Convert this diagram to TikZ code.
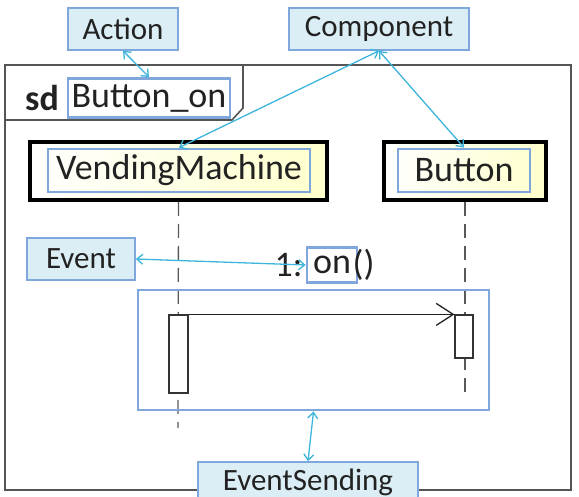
\documentclass[tikz,border=0pt]{standalone}
\usepackage{fontspec}
\setmainfont{Carlito}
\usetikzlibrary{arrows.meta}
\definecolor{tagfill}{HTML}{DCEEF5}
\definecolor{tagline}{HTML}{7FA7DB}
\definecolor{linkcol}{HTML}{3CB4DC}
\definecolor{lifefill}{HTML}{FFFFCC}
\definecolor{framecol}{HTML}{555555}
\definecolor{inkcol}{HTML}{222222}

\tikzset{
  tag/.style={draw=tagline, fill=tagfill, line width=1.6pt, inner sep=0pt, text=inkcol, font=\fontsize{31}{33}\selectfont},
  hilite/.style={draw=tagline, line width=2.8pt, inner sep=0pt, text=inkcol, font=\fontsize{36}{38}\selectfont},
  lifebox/.style={draw=black, line width=3.6pt, inner sep=0pt, left color=white, right color=lifefill},
  activation/.style={draw=black!80, fill=white, line width=1.2pt, inner sep=0pt},
  link/.style={linkcol, line width=1.3pt, {Straight Barb[length=6pt,width=10pt]}-{Straight Barb[length=6pt,width=10pt]}},
  lifeline/.style={black!65, line width=1.3pt, dash pattern=on 14pt off 8pt},
}

\begin{document}
\begin{tikzpicture}[x=1pt,y=-1pt]
  \useasboundingbox (0,0) rectangle (579,497);
  % frame
  \draw[framecol, line width=1.6pt] (5,65) rectangle (571,490);
  \draw[framecol, line width=1.6pt] (5,120) -- (232,120) -- (243,108) -- (243,65);
  \node[font=\fontsize{36}{38}\selectfont\bfseries, text=inkcol, inner sep=0pt] (sd) at (42,98) {sd};
  \node[hilite, minimum width=162, minimum height=39] (title) at (149,98) {Button\_on};
  % lifeline heads
  \node[lifebox, minimum width=297, minimum height=58] (vm) at (178.5,171) {};
  \node[hilite, minimum width=262, minimum height=43] (vmname) at (179,170.5) {VendingMachine};
  \node[lifebox, minimum width=162, minimum height=58] (btn) at (465,171) {};
  \node[hilite, minimum width=132, minimum height=43] (btnname) at (464,170.5) {Button};
  % lifelines
  \coordinate (vmend) at (178,428);
  \coordinate (btnend) at (465,394);
  \draw[lifeline] (vm.south) -- (vmend);
  \draw[lifeline] (btn.south) -- (btnend);
  % activations and message
  \node[activation, minimum width=19, minimum height=78] (actvm) at (178.5,354) {};
  \node[activation, minimum width=18, minimum height=43] (actbtn) at (464,336.5) {};
  \draw[inkcol, line width=1.3pt, -{Straight Barb[length=17pt,width=22pt]}] (actvm.north east) -- (actbtn.north west);
  \node[hilite, minimum width=50, minimum height=35] (msgname) at (332,265) {on};
  \node[font=\fontsize{36}{38}\selectfont, text=inkcol, inner sep=0pt, anchor=east] (msgnum) at ([xshift=-3pt]msgname.west) {1:};
  \node[font=\fontsize{36}{38}\selectfont, text=inkcol, inner sep=0pt, anchor=west] (msgargs) at ([xshift=-6pt]msgname.east) {()};
  \node[draw=tagline, line width=2.8pt, minimum width=351, minimum height=120] (region) at (313.5,350) {};
  % labels
  \node[tag, minimum width=110, minimum height=42] (action) at (123,29) {Action};
  \node[tag, minimum width=180, minimum height=42] (component) at (379,29) {Component};
  \node[tag, minimum width=108, minimum height=42] (event) at (81,259) {Event};
  \node[tag, minimum width=220, minimum height=40] (sending) at (308,482) {EventSending};
  % links
  \draw[link] (action.south) -- (title.north);
  \draw[link] (component.south) -- (vmname.north);
  \draw[link] (component.south) -- (btnname.north);
  \draw[link] (event.east) -- (msgname.west);
  \draw[link] (region.south) -- (sending.north);
\end{tikzpicture}
\end{document}
